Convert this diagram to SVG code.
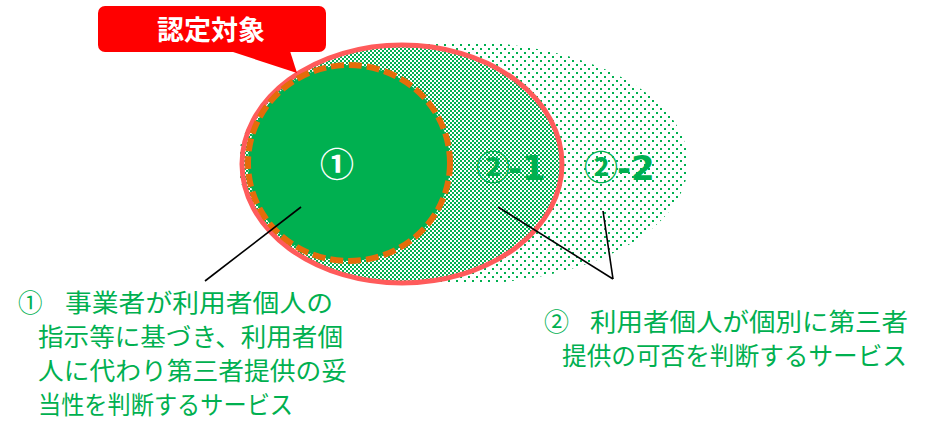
<svg xmlns="http://www.w3.org/2000/svg" width="934" height="421" viewBox="0 0 934 421">
<style>
.jp{font-family:"Noto Sans CJK JP","Noto Sans",sans-serif;}
.lbl{font-size:25px;fill:#00B050;}
.lbl1{font-size:24.5px;fill:#00B050;}
.big{font-size:34px;font-weight:bold;}
.num{font-family:"DejaVu Sans",sans-serif;font-size:34px;font-weight:bold;fill:#00B050;}
.conn{stroke:#000;stroke-width:1.6;fill:none;}
</style>
<defs>
<pattern id="sparse" width="8" height="8" patternUnits="userSpaceOnUse">
<rect x="0" y="0" width="2" height="2" fill="#00B050"/>
<rect x="4" y="4" width="2" height="2" fill="#00B050"/>
</pattern>
<pattern id="dense" width="4" height="4" patternUnits="userSpaceOnUse">
<rect x="0" y="0" width="2" height="2" fill="#00B050"/>
<rect x="2" y="2" width="2" height="2" fill="#00B050"/>
</pattern>
</defs>
<rect width="934" height="421" fill="#fff"/>
<g id="node-2-2">
<ellipse cx="463" cy="163" rx="225" ry="121" fill="url(#sparse)"/>
<text class="jp big" x="584" y="180" fill="#00B050">②</text>
<text class="num" x="617" y="180">-2</text>
</g>
<g id="node-2-1">
<ellipse cx="402" cy="164" rx="160" ry="119" fill="#fff"/>
<ellipse cx="402" cy="164" rx="160" ry="119" fill="url(#dense)" stroke="#FF5B5B" stroke-width="5"/>
<text class="jp big" x="476" y="180" fill="#00B050">②</text>
<text class="num" x="508" y="180">-1</text>
</g>
<g id="node-1">
<ellipse cx="349" cy="163" rx="101" ry="98" fill="#00B050" stroke="#E46C0A" stroke-width="6" stroke-dasharray="13 5"/>
<text class="jp big" x="337" y="177" fill="#fff" text-anchor="middle">①</text>
</g>
<g id="callout">
<rect x="98" y="6" width="228" height="46" rx="7" fill="#FF0000"/>
<polygon points="230,51 290,51 297,73" fill="#FF0000"/>
<text class="jp" x="211" y="40" font-size="27" font-weight="bold" fill="#fff" text-anchor="middle">認定対象</text>
</g>
<g id="connectors">
<line class="conn" x1="301" y1="207" x2="205" y2="281"/>
<line class="conn" x1="498" y1="207" x2="613" y2="279"/>
<line class="conn" x1="603" y1="211" x2="613" y2="279"/>
</g>
<g id="label-1" class="jp lbl1">
<text x="18" y="312">①</text>
<text x="65" y="312" textLength="268" lengthAdjust="spacingAndGlyphs">事業者が利用者個人の</text>
<text x="38" y="346" textLength="305" lengthAdjust="spacingAndGlyphs">指示等に基づき、利用者個</text>
<text x="38" y="380" textLength="309" lengthAdjust="spacingAndGlyphs">人に代わり第三者提供の妥</text>
<text x="38" y="414" textLength="255" lengthAdjust="spacingAndGlyphs">当性を判断するサービス</text>
</g>
<g id="label-2" class="jp lbl">
<text x="544" y="331">②</text>
<text x="590" y="331" textLength="318" lengthAdjust="spacingAndGlyphs">利用者個人が個別に第三者</text>
<text x="562" y="365" textLength="345" lengthAdjust="spacingAndGlyphs">提供の可否を判断するサービス</text>
</g>
</svg>
